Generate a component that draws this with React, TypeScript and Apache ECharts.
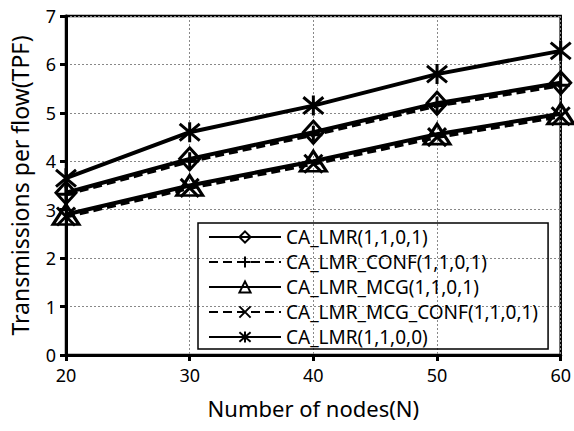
import React, { useEffect, useRef } from "react";
import * as echarts from "echarts";

const nodes = [20, 30, 40, 50, 60];
const lmr1101 = [3.35, 4.05, 4.6, 5.2, 5.62];
const lmrConf = [3.32, 4.0, 4.55, 5.15, 5.57];
const lmrMcg = [2.9, 3.5, 4.0, 4.56, 4.98];
const lmrMcgConf = [2.86, 3.45, 3.95, 4.5, 4.93];
const lmr1100 = [3.65, 4.6, 5.15, 5.8, 6.28];
const seriesNames = [
  "CA_LMR(1,1,0,1)",
  "CA_LMR_CONF(1,1,0,1)",
  "CA_LMR_MCG(1,1,0,1)",
  "CA_LMR_MCG_CONF(1,1,0,1)",
  "CA_LMR(1,1,0,0)",
];
const xTitle = "Number of nodes(N)";
const yTitle = "Transmissions per flow(TPF)";

const FONT = "Noto Sans";

const PLUS = "path://M0,5L10,5M5,0L5,10";
const CROSS = "path://M0,0L10,10M10,0L0,10";
const STAR = "path://M0,0L10,10M10,0L0,10M5,-1L5,11";

export default function App() {
  const ref = useRef<HTMLDivElement>(null);
  useEffect(() => {
    if (!ref.current) return;
    const chart = echarts.init(ref.current, undefined, { renderer: "svg" });
    const pts = (arr: number[]) => nodes.map((n, i) => [n, arr[i]]);
    const hollow = { color: "rgba(255,255,255,0)", borderColor: "#000", borderWidth: 3 };
    const solid = { color: "#000", width: 4, type: "solid" };
    const dashed = { color: "#000", width: 4, type: [9, 5] };
    const datasets = [lmr1101, lmrConf, lmrMcg, lmrMcgConf, lmr1100];
    const symbols = ["diamond", PLUS, "triangle", CROSS, STAR];
    const sizes: any[] = [[20, 22], 18, [26, 20], 18, 20];
    const lines = [solid, dashed, solid, dashed, solid];
    chart.setOption({
      animation: false,
      grid: {
        left: 62,
        right: 11,
        top: 16,
        bottom: 76,
        show: true,
        borderColor: "#000",
        borderWidth: 2.5,
      },
      legend: {
        left: 198,
        top: 223,
        orient: "vertical",
        padding: [4, 10, 2, 10],
        borderColor: "#000",
        borderWidth: 1.5,
        itemWidth: 72,
        itemHeight: 14,
        itemGap: 5,
        textStyle: { fontFamily: FONT, fontSize: 19, color: "#000", lineHeight: 20 },
        data: seriesNames,
      },
      xAxis: {
        type: "value",
        min: 20,
        max: 60,
        interval: 10,
        name: xTitle,
        nameLocation: "middle",
        nameGap: 42,
        nameTextStyle: { fontFamily: FONT, fontSize: 22, color: "#000" },
        axisLine: { lineStyle: { color: "#000", width: 3 } },
        axisTick: { show: true, length: 6, lineStyle: { color: "#000", width: 3 } },
        axisLabel: { fontFamily: FONT, fontSize: 18, color: "#000", margin: 11 },
        splitLine: { show: true, lineStyle: { color: "#888", width: 1, type: [2, 2] } },
      },
      yAxis: {
        type: "value",
        min: 0,
        max: 7,
        interval: 1,
        name: yTitle,
        nameLocation: "middle",
        nameGap: 35,
        nameTextStyle: { fontFamily: FONT, fontSize: 23, color: "#000" },
        axisLine: { show: true, lineStyle: { color: "#000", width: 3 } },
        axisTick: { show: true, length: 6, lineStyle: { color: "#000", width: 3 } },
        axisLabel: { fontFamily: FONT, fontSize: 18, color: "#000", margin: 10 },
        splitLine: { show: true, lineStyle: { color: "#888", width: 1, type: [2, 2] } },
      },
      series: datasets.map((d, i) => ({
        name: seriesNames[i],
        type: "line",
        data: pts(d),
        symbol: symbols[i],
        symbolSize: sizes[i],
        showAllSymbol: true,
        lineStyle: lines[i],
        itemStyle: hollow,
        emphasis: { disabled: true },
      })),
    });
    return () => chart.dispose();
  }, []);
  return <div ref={ref} style={{ position: "absolute", left: 0, top: 0, width: 574, height: 431 }} />;
}
